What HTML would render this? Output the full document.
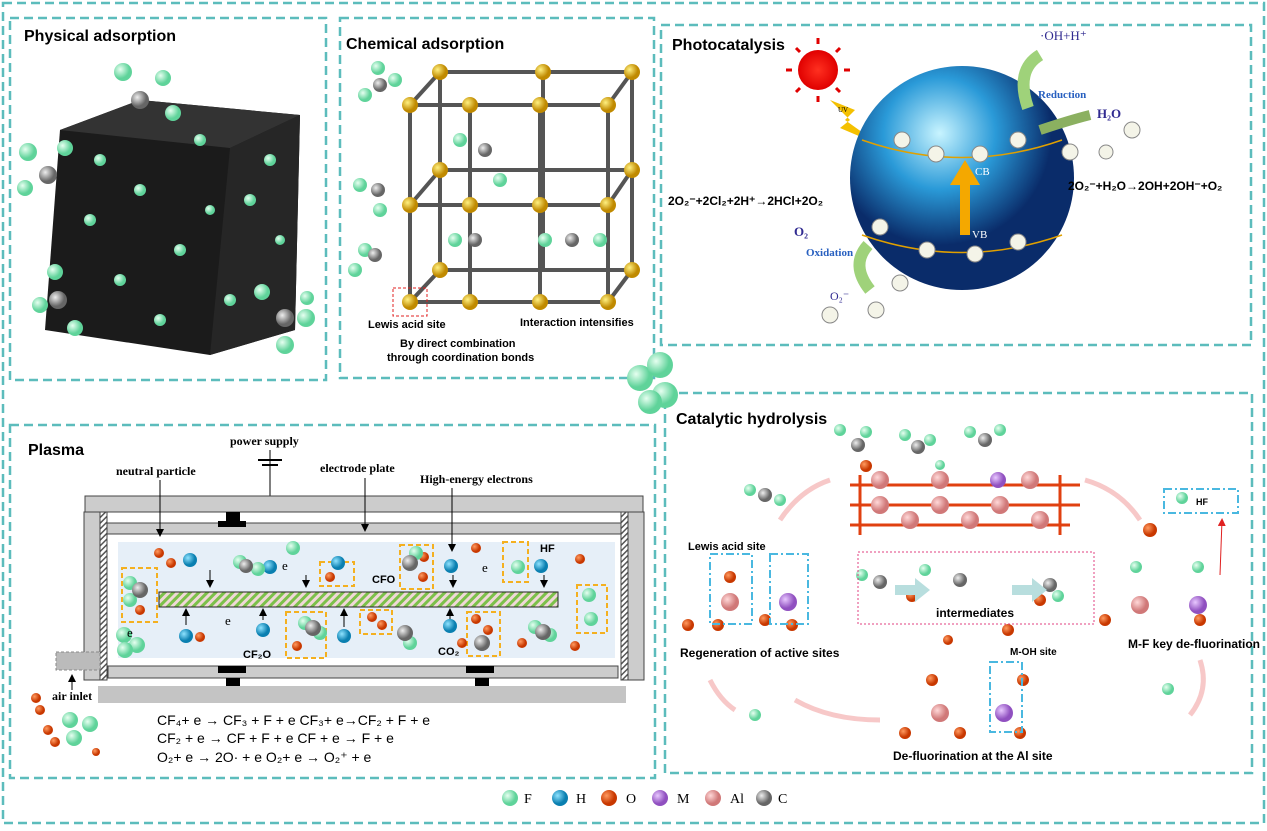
<!DOCTYPE html>
<html><head><meta charset="utf-8"><style>
body{margin:0;background:#fff;width:1267px;height:826px;overflow:hidden;font-family:"Liberation Sans",Arial,sans-serif}
svg text{font-family:"Liberation Sans",Arial,sans-serif}
.s{font-family:"Liberation Serif",serif}
</style></head><body>
<svg width="1267" height="826" viewBox="0 0 1267 826" xmlns="http://www.w3.org/2000/svg">
<defs>
<radialGradient id="gF" cx="35%" cy="35%"><stop offset="0" stop-color="#e6fff0"/><stop offset="1" stop-color="#5fd39a"/></radialGradient>
<radialGradient id="gC" cx="35%" cy="35%"><stop offset="0" stop-color="#eee"/><stop offset="1" stop-color="#666"/></radialGradient>
<radialGradient id="gH" cx="35%" cy="35%"><stop offset="0" stop-color="#8fe3ff"/><stop offset="1" stop-color="#0a7fb0"/></radialGradient>
<radialGradient id="gO" cx="35%" cy="35%"><stop offset="0" stop-color="#ff9a60"/><stop offset="1" stop-color="#c83800"/></radialGradient>
<radialGradient id="gM" cx="35%" cy="35%"><stop offset="0" stop-color="#e8c8ff"/><stop offset="1" stop-color="#9050c0"/></radialGradient>
<radialGradient id="gA" cx="35%" cy="35%"><stop offset="0" stop-color="#ffd8d8"/><stop offset="1" stop-color="#d07878"/></radialGradient>
<radialGradient id="gY" cx="35%" cy="35%"><stop offset="0" stop-color="#fff080"/><stop offset="1" stop-color="#c08a00"/></radialGradient>
<radialGradient id="gS" cx="40%" cy="30%"><stop offset="0" stop-color="#c8f4ff"/><stop offset="0.5" stop-color="#2a9ad8"/><stop offset="1" stop-color="#0a2c6a"/></radialGradient>
<radialGradient id="gR" cx="50%" cy="50%"><stop offset="0" stop-color="#ff3020"/><stop offset="1" stop-color="#e00000"/></radialGradient>
<pattern id="hatch" width="6" height="6" patternUnits="userSpaceOnUse" patternTransform="rotate(45)"><rect width="6" height="6" fill="#f0d8d8"/><rect width="3" height="6" fill="#7cc04a"/></pattern>
<pattern id="hatch2" width="4" height="4" patternUnits="userSpaceOnUse" patternTransform="rotate(45)"><rect width="4" height="4" fill="#fff"/><rect width="1.5" height="4" fill="#555"/></pattern>
<marker id="ar" markerWidth="8" markerHeight="8" refX="6" refY="4" orient="auto"><path d="M0,0 L8,4 L0,8z" fill="#000"/></marker>
<marker id="arr" markerWidth="8" markerHeight="8" refX="6" refY="4" orient="auto"><path d="M0,0 L8,4 L0,8z" fill="#e02020"/></marker>
</defs>
<g fill="none" stroke="#5cbcbc" stroke-width="2.5" stroke-dasharray="9,5">
<rect x="3" y="3" width="1261" height="820"/>
<rect x="10" y="18" width="316" height="362"/>
<rect x="340" y="18" width="314" height="360"/>
<rect x="661" y="25" width="590" height="320"/>
<rect x="10" y="425" width="645" height="353"/>
<rect x="665" y="393" width="587" height="380"/>
</g>
<!-- Panel 1 -->
<text x="24" y="41" font-size="16" font-weight="bold">Physical adsorption</text>
<path d="M60,130 L140,100 L300,115 L295,330 L210,355 L45,330 Z" fill="#1b1b1b"/>
<path d="M60,130 L140,100 L300,115 L230,148 Z" fill="#333"/>
<path d="M230,148 L300,115 L295,330 L210,355 Z" fill="#262626"/>
<g fill="url(#gF)">
<circle cx="123" cy="72" r="9"/><circle cx="163" cy="78" r="8"/><circle cx="173" cy="113" r="8"/><circle cx="28" cy="152" r="9"/><circle cx="25" cy="188" r="8"/><circle cx="65" cy="148" r="8"/><circle cx="55" cy="272" r="8"/><circle cx="40" cy="305" r="8"/><circle cx="75" cy="328" r="8"/><circle cx="262" cy="292" r="8"/><circle cx="306" cy="318" r="9"/><circle cx="285" cy="345" r="9"/><circle cx="307" cy="298" r="7"/>
<circle cx="100" cy="160" r="6"/><circle cx="140" cy="190" r="6"/><circle cx="200" cy="140" r="6"/><circle cx="250" cy="200" r="6"/><circle cx="180" cy="250" r="6"/><circle cx="120" cy="280" r="6"/><circle cx="230" cy="300" r="6"/><circle cx="270" cy="160" r="6"/><circle cx="90" cy="220" r="6"/><circle cx="160" cy="320" r="6"/><circle cx="210" cy="210" r="5"/><circle cx="280" cy="240" r="5"/>
</g>
<g fill="url(#gC)"><circle cx="140" cy="100" r="9"/><circle cx="48" cy="175" r="9"/><circle cx="58" cy="300" r="9"/><circle cx="285" cy="318" r="9"/></g>
<!-- Panel 2 -->
<text x="346" y="49" font-size="16" font-weight="bold">Chemical adsorption</text>
<g stroke="#555" stroke-width="4">
<line x1="410" y1="105" x2="410" y2="302"/><line x1="470" y1="105" x2="470" y2="302"/><line x1="540" y1="105" x2="540" y2="302"/><line x1="608" y1="105" x2="608" y2="302"/>
<line x1="440" y1="72" x2="440" y2="270"/><line x1="543" y1="72" x2="543" y2="270"/><line x1="632" y1="72" x2="632" y2="270"/>
<line x1="410" y1="105" x2="608" y2="105"/><line x1="410" y1="205" x2="608" y2="205"/><line x1="410" y1="302" x2="608" y2="302"/>
<line x1="440" y1="72" x2="632" y2="72"/><line x1="440" y1="170" x2="632" y2="170"/><line x1="440" y1="270" x2="632" y2="270"/>
<line x1="410" y1="105" x2="440" y2="72"/><line x1="608" y1="105" x2="632" y2="72"/><line x1="410" y1="302" x2="440" y2="270"/><line x1="608" y1="302" x2="632" y2="270"/><line x1="410" y1="205" x2="440" y2="170"/><line x1="608" y1="205" x2="632" y2="170"/>
</g>
<g fill="url(#gY)">
<circle cx="410" cy="105" r="8"/><circle cx="470" cy="105" r="8"/><circle cx="540" cy="105" r="8"/><circle cx="608" cy="105" r="8"/><circle cx="440" cy="72" r="8"/><circle cx="543" cy="72" r="8"/><circle cx="632" cy="72" r="8"/>
<circle cx="410" cy="205" r="8"/><circle cx="470" cy="205" r="8"/><circle cx="540" cy="205" r="8"/><circle cx="608" cy="205" r="8"/><circle cx="440" cy="170" r="8"/><circle cx="632" cy="170" r="8"/>
<circle cx="410" cy="302" r="8"/><circle cx="470" cy="302" r="8"/><circle cx="540" cy="302" r="8"/><circle cx="608" cy="302" r="8"/><circle cx="440" cy="270" r="8"/><circle cx="632" cy="270" r="8"/>
</g>
<g fill="url(#gF)"><circle cx="378" cy="68" r="7"/><circle cx="395" cy="80" r="7"/><circle cx="365" cy="95" r="7"/><circle cx="360" cy="185" r="7"/><circle cx="380" cy="210" r="7"/><circle cx="460" cy="140" r="7"/><circle cx="500" cy="180" r="7"/><circle cx="455" cy="240" r="7"/><circle cx="545" cy="240" r="7"/><circle cx="600" cy="240" r="7"/><circle cx="365" cy="250" r="7"/><circle cx="355" cy="270" r="7"/></g>
<g fill="url(#gC)"><circle cx="380" cy="85" r="7"/><circle cx="378" cy="190" r="7"/><circle cx="485" cy="150" r="7"/><circle cx="475" cy="240" r="7"/><circle cx="572" cy="240" r="7"/><circle cx="375" cy="255" r="7"/></g>
<rect x="393" y="288" width="34" height="28" fill="none" stroke="#e02020" stroke-dasharray="3,2"/>
<text x="368" y="328" font-size="11" font-weight="bold">Lewis acid site</text>
<text x="520" y="326" font-size="11" font-weight="bold">Interaction intensifies</text>
<text x="400" y="347" font-size="11" font-weight="bold">By direct combination</text>
<text x="387" y="361" font-size="11" font-weight="bold">through coordination bonds</text>
<!-- Panel 3 -->
<text x="672" y="50" font-size="16" font-weight="bold">Photocatalysis</text>
<circle cx="818" cy="70" r="20" fill="url(#gR)"/>
<g stroke="#e00000" stroke-width="3"><line x1="818" y1="38" x2="818" y2="44"/><line x1="818" y1="96" x2="818" y2="102"/><line x1="786" y1="70" x2="792" y2="70"/><line x1="844" y1="70" x2="850" y2="70"/><line x1="796" y1="48" x2="800" y2="52"/><line x1="836" y1="88" x2="840" y2="92"/><line x1="840" y1="48" x2="836" y2="52"/><line x1="796" y1="92" x2="800" y2="88"/></g>
<path d="M830,100 L855,110 L845,120 L880,145 L840,128 L850,120 Z" fill="#f4c000"/>
<text x="838" y="112" font-size="7" class="s">UV</text>
<circle cx="962" cy="178" r="112" fill="url(#gS)"/>
<path d="M862,140 Q962,175 1062,140" fill="none" stroke="#e0a000" stroke-width="1.5"/>
<path d="M862,235 Q962,270 1062,235" fill="none" stroke="#e0a000" stroke-width="1.5"/>
<path d="M960,235 L960,185 L950,185 L965,160 L980,185 L970,185 L970,235 Z" fill="#f4a800"/>
<text x="975" y="175" font-size="11" fill="#fff" class="s">CB</text>
<text x="972" y="238" font-size="11" fill="#fff" class="s">VB</text>
<g fill="#f4f4e8" stroke="#888"><circle cx="902" cy="140" r="8"/><circle cx="936" cy="154" r="8"/><circle cx="980" cy="154" r="8"/><circle cx="1018" cy="140" r="8"/><circle cx="1070" cy="152" r="8"/><circle cx="1106" cy="152" r="7"/><circle cx="1132" cy="130" r="8"/>
<circle cx="880" cy="227" r="8"/><circle cx="927" cy="250" r="8"/><circle cx="975" cy="254" r="8"/><circle cx="1018" cy="242" r="8"/><circle cx="900" cy="283" r="8"/><circle cx="876" cy="310" r="8"/><circle cx="830" cy="315" r="8"/></g>
<path d="M1028,108 Q1015,70 1040,55" fill="none" stroke="#9fd27a" stroke-width="12"/>
<path d="M1040,130 Q1070,120 1090,115" fill="none" stroke="#8bb060" stroke-width="10"/>
<path d="M868,245 Q850,265 870,290" fill="none" stroke="#9fd27a" stroke-width="12"/>
<text x="1040" y="40" font-size="13" fill="#302a90" class="s">·OH+H⁺</text>
<text x="1038" y="98" font-size="11" fill="#2860c0" class="s" font-weight="bold">Reduction</text>
<text x="1097" y="118" font-size="13" fill="#302a90" class="s" font-weight="bold">H₂O</text>
<text x="794" y="236" font-size="13" fill="#302a90" class="s" font-weight="bold">O₂</text>
<text x="806" y="256" font-size="11" fill="#2860c0" class="s" font-weight="bold">Oxidation</text>
<text x="830" y="300" font-size="12" fill="#302a90" class="s">O₂⁻</text>
<text x="668" y="205" font-size="12" font-weight="bold">2O₂⁻+2Cl₂+2H⁺→2HCl+2O₂</text>
<text x="1068" y="190" font-size="12" font-weight="bold">2O₂⁻+H₂O→2OH+2OH⁻+O₂</text>
<!-- middle molecule -->
<g fill="url(#gF)"><circle cx="640" cy="378" r="13"/><circle cx="660" cy="365" r="13"/><circle cx="665" cy="395" r="13"/><circle cx="650" cy="402" r="12"/></g>
<!-- Panel 4 Plasma -->
<text x="28" y="455" font-size="16" font-weight="bold">Plasma</text>
<text x="230" y="445" font-size="12" class="s" font-weight="bold">power supply</text>
<line x1="270" y1="450" x2="270" y2="496" stroke="#000"/><line x1="258" y1="460" x2="282" y2="460" stroke="#000" stroke-width="2"/><line x1="262" y1="465" x2="278" y2="465" stroke="#000" stroke-width="2"/>
<text x="116" y="475" font-size="12" class="s" font-weight="bold">neutral particle</text>
<text x="320" y="472" font-size="12" class="s" font-weight="bold">electrode plate</text>
<text x="420" y="483" font-size="12" class="s" font-weight="bold">High-energy electrons</text>
<rect x="85" y="496" width="558" height="16" fill="#ccc" stroke="#444"/>
<rect x="84" y="512" width="16" height="168" fill="#ccc" stroke="#444"/><rect x="100" y="512" width="7" height="168" fill="url(#hatch2)" stroke="#444"/>
<rect x="628" y="512" width="16" height="168" fill="#ccc" stroke="#444"/><rect x="621" y="512" width="7" height="168" fill="url(#hatch2)" stroke="#444"/>
<rect x="107" y="523" width="514" height="11" fill="#ccc" stroke="#444"/>
<rect x="226" y="512" width="14" height="11" fill="#000"/><rect x="218" y="521" width="28" height="6" fill="#000"/>
<rect x="118" y="542" width="497" height="116" fill="#e6eff8"/>
<rect x="159" y="592" width="399" height="15" fill="url(#hatch)" stroke="#222"/>
<rect x="108" y="666" width="510" height="12" fill="#ccc" stroke="#444"/>
<rect x="218" y="666" width="28" height="7" fill="#000"/><rect x="226" y="678" width="14" height="9" fill="#000"/>
<rect x="466" y="666" width="28" height="7" fill="#000"/><rect x="475" y="678" width="14" height="9" fill="#000"/>
<rect x="98" y="686" width="528" height="17" fill="#c4c4c4"/>
<rect x="56" y="652" width="44" height="18" fill="#bbb" stroke="#888" stroke-dasharray="3,2"/>
<text x="52" y="700" font-size="12" class="s" font-weight="bold">air inlet</text>
<g stroke="#000" fill="none" marker-end="url(#ar)">
<line x1="160" y1="480" x2="160" y2="535"/><line x1="365" y1="478" x2="365" y2="530"/><line x1="452" y1="488" x2="452" y2="550"/><line x1="72" y1="690" x2="72" y2="676"/>
<line x1="210" y1="570" x2="210" y2="586"/><line x1="306" y1="575" x2="306" y2="586"/><line x1="453" y1="575" x2="453" y2="586"/><line x1="544" y1="575" x2="544" y2="586"/>
<line x1="186" y1="625" x2="186" y2="610"/><line x1="263" y1="620" x2="263" y2="610"/><line x1="344" y1="627" x2="344" y2="610"/><line x1="450" y1="620" x2="450" y2="610"/>
</g>
<g fill="none" stroke="#f4b020" stroke-width="2" stroke-dasharray="5,3">
<rect x="122" y="568" width="35" height="54"/><rect x="286" y="612" width="40" height="46"/><rect x="320" y="562" width="34" height="24"/><rect x="400" y="545" width="33" height="44"/><rect x="360" y="610" width="32" height="24"/><rect x="467" y="612" width="33" height="44"/><rect x="503" y="542" width="25" height="40"/><rect x="577" y="585" width="30" height="48"/>
</g>
<g fill="url(#gO)"><circle cx="159" cy="553" r="5"/><circle cx="171" cy="563" r="5"/><circle cx="140" cy="610" r="5"/><circle cx="200" cy="637" r="5"/><circle cx="297" cy="646" r="5"/><circle cx="330" cy="577" r="5"/><circle cx="372" cy="617" r="5"/><circle cx="382" cy="625" r="5"/><circle cx="423" cy="577" r="5"/><circle cx="424" cy="557" r="5"/><circle cx="476" cy="548" r="5"/><circle cx="476" cy="619" r="5"/><circle cx="488" cy="630" r="5"/><circle cx="462" cy="643" r="5"/><circle cx="522" cy="643" r="5"/><circle cx="580" cy="559" r="5"/><circle cx="575" cy="646" r="5"/><circle cx="36" cy="698" r="5"/><circle cx="40" cy="710" r="5"/><circle cx="48" cy="730" r="5"/><circle cx="55" cy="742" r="5"/><circle cx="96" cy="752" r="4"/></g>
<g fill="url(#gH)"><circle cx="190" cy="560" r="7"/><circle cx="270" cy="567" r="7"/><circle cx="338" cy="563" r="7"/><circle cx="451" cy="566" r="7"/><circle cx="541" cy="566" r="7"/><circle cx="186" cy="636" r="7"/><circle cx="263" cy="630" r="7"/><circle cx="344" cy="636" r="7"/><circle cx="450" cy="626" r="7"/></g>
<g fill="url(#gF)"><circle cx="240" cy="562" r="7"/><circle cx="258" cy="569" r="7"/><circle cx="293" cy="548" r="7"/><circle cx="130" cy="583" r="7"/><circle cx="130" cy="600" r="7"/><circle cx="124" cy="635" r="8"/><circle cx="137" cy="645" r="8"/><circle cx="125" cy="650" r="8"/><circle cx="416" cy="553" r="7"/><circle cx="305" cy="623" r="7"/><circle cx="320" cy="633" r="7"/><circle cx="410" cy="643" r="7"/><circle cx="535" cy="627" r="7"/><circle cx="550" cy="635" r="7"/><circle cx="518" cy="567" r="7"/><circle cx="589" cy="595" r="7"/><circle cx="591" cy="619" r="7"/><circle cx="70" cy="720" r="8"/><circle cx="74" cy="738" r="8"/><circle cx="90" cy="724" r="8"/></g>
<g fill="url(#gC)"><circle cx="246" cy="566" r="7"/><circle cx="140" cy="590" r="8"/><circle cx="410" cy="563" r="8"/><circle cx="313" cy="628" r="8"/><circle cx="405" cy="633" r="8"/><circle cx="482" cy="643" r="8"/><circle cx="543" cy="632" r="8"/></g>
<g class="s" font-size="13"><text x="282" y="570" class="s">e</text><text x="127" y="637" class="s">e</text><text x="225" y="625" class="s">e</text><text x="482" y="572" class="s">e</text></g>
<g font-size="11" font-weight="bold"><text x="372" y="583">CFO</text><text x="540" y="552">HF</text><text x="243" y="658">CF₂O</text><text x="438" y="655">CO₂</text></g>
<g font-size="14"><text x="157" y="725">CF₄+ e → CF₃ + F + e   CF₃+ e→CF₂ + F + e</text><text x="157" y="743">CF₂ + e → CF + F + e   CF + e → F + e</text><text x="157" y="762">O₂+ e → 2O· + e   O₂+ e → O₂⁺ + e</text></g>
<!-- Panel 5 -->
<text x="676" y="424" font-size="16" font-weight="bold">Catalytic hydrolysis</text>
<g stroke="#e04010" stroke-width="3">
<line x1="850" y1="485" x2="1080" y2="485"/><line x1="850" y1="505" x2="1080" y2="505"/><line x1="850" y1="525" x2="1070" y2="525"/><line x1="860" y1="475" x2="860" y2="535"/><line x1="1060" y1="475" x2="1060" y2="535"/>
</g>
<g fill="url(#gA)"><circle cx="880" cy="480" r="9"/><circle cx="940" cy="480" r="9"/><circle cx="1030" cy="480" r="9"/><circle cx="880" cy="505" r="9"/><circle cx="940" cy="505" r="9"/><circle cx="1000" cy="505" r="9"/><circle cx="910" cy="520" r="9"/><circle cx="970" cy="520" r="9"/><circle cx="1040" cy="520" r="9"/></g>
<circle cx="998" cy="480" r="8" fill="url(#gM)"/>
<g fill="url(#gF)"><circle cx="840" cy="430" r="6"/><circle cx="866" cy="432" r="6"/><circle cx="905" cy="435" r="6"/><circle cx="930" cy="440" r="6"/><circle cx="970" cy="432" r="6"/><circle cx="1000" cy="430" r="6"/><circle cx="940" cy="465" r="5"/><circle cx="750" cy="490" r="6"/><circle cx="780" cy="500" r="6"/><circle cx="1182" cy="498" r="6"/><circle cx="1136" cy="567" r="6"/><circle cx="1198" cy="567" r="6"/><circle cx="862" cy="575" r="6"/><circle cx="925" cy="570" r="6"/><circle cx="1058" cy="596" r="6"/><circle cx="1168" cy="689" r="6"/><circle cx="755" cy="715" r="6"/></g>
<g fill="url(#gC)"><circle cx="858" cy="445" r="7"/><circle cx="918" cy="447" r="7"/><circle cx="985" cy="440" r="7"/><circle cx="765" cy="495" r="7"/><circle cx="880" cy="582" r="7"/><circle cx="960" cy="580" r="7"/><circle cx="1050" cy="585" r="7"/></g>
<g fill="url(#gO)"><circle cx="866" cy="466" r="6"/><circle cx="1150" cy="530" r="7"/><circle cx="912" cy="596" r="6"/><circle cx="1040" cy="600" r="6"/><circle cx="730" cy="577" r="6"/><circle cx="718" cy="625" r="6"/><circle cx="688" cy="625" r="6"/><circle cx="792" cy="625" r="6"/><circle cx="765" cy="620" r="6"/><circle cx="1105" cy="620" r="6"/><circle cx="1200" cy="620" r="6"/><circle cx="1008" cy="630" r="6"/><circle cx="932" cy="680" r="6"/><circle cx="905" cy="733" r="6"/><circle cx="960" cy="733" r="6"/><circle cx="1020" cy="733" r="6"/><circle cx="1023" cy="680" r="6"/><circle cx="948" cy="640" r="5"/></g>
<g fill="url(#gA)"><circle cx="730" cy="602" r="9"/><circle cx="1140" cy="605" r="9"/><circle cx="940" cy="713" r="9"/></g>
<g fill="url(#gM)"><circle cx="788" cy="602" r="9"/><circle cx="1198" cy="605" r="9"/><circle cx="1004" cy="713" r="9"/></g>
<g fill="none" stroke="#4ab8e0" stroke-width="2" stroke-dasharray="8,3,2,3">
<rect x="710" y="554" width="42" height="70"/><rect x="770" y="554" width="38" height="70"/><rect x="1164" y="489" width="74" height="24"/><rect x="990" y="662" width="32" height="70"/>
</g>
<rect x="858" y="552" width="236" height="72" fill="none" stroke="#e04080" stroke-dasharray="2,2"/>
<path d="M895,585 L915,585 L915,578 L930,590 L915,602 L915,595 L895,595Z" fill="#b8dede"/>
<path d="M1012,585 L1032,585 L1032,578 L1047,590 L1032,602 L1032,595 L1012,595Z" fill="#b8dede"/>
<text x="936" y="617" font-size="12" font-weight="bold">intermediates</text>
<text x="1196" y="505" font-size="9" font-weight="bold">HF</text>
<text x="688" y="550" font-size="11" font-weight="bold">Lewis acid site</text>
<text x="680" y="657" font-size="12" font-weight="bold">Regeneration of active sites</text>
<text x="1010" y="655" font-size="10" font-weight="bold">M-OH site</text>
<text x="1128" y="648" font-size="12" font-weight="bold">M-F key de-fluorination</text>
<text x="893" y="760" font-size="12" font-weight="bold">De-fluorination at the Al site</text>
<g fill="none" stroke="#f4b0b0" stroke-width="5" opacity="0.7">
<path d="M780,520 Q800,490 830,480"/><path d="M1085,480 Q1120,490 1140,520"/><path d="M1200,660 Q1210,690 1190,715"/><path d="M880,720 Q830,720 795,700"/><path d="M710,680 Q720,700 735,710"/>
</g>
<line x1="1220" y1="575" x2="1222" y2="520" stroke="#e02020" marker-end="url(#arr)"/>
<!-- Legend -->
<g font-size="14" class="s">
<circle cx="510" cy="798" r="8" fill="url(#gF)"/><text x="524" y="803" class="s">F</text>
<circle cx="560" cy="798" r="8" fill="url(#gH)"/><text x="576" y="803" class="s">H</text>
<circle cx="609" cy="798" r="8" fill="url(#gO)"/><text x="626" y="803" class="s">O</text>
<circle cx="660" cy="798" r="8" fill="url(#gM)"/><text x="677" y="803" class="s">M</text>
<circle cx="713" cy="798" r="8" fill="url(#gA)"/><text x="730" y="803" class="s">Al</text>
<circle cx="764" cy="798" r="8" fill="url(#gC)"/><text x="778" y="803" class="s">C</text>
</g>
</svg>
</body></html>
